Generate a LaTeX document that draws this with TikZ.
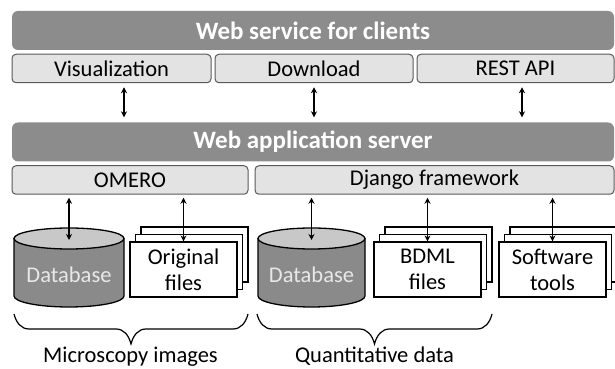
\documentclass[tikz,border=0pt]{standalone}
\usepackage{fontspec}
\setmainfont{Carlito}
\usetikzlibrary{arrows.meta}
\usetikzlibrary{shadows}
\usetikzlibrary{decorations.pathreplacing}

\definecolor{barGray}{HTML}{8C8C8C}
\definecolor{tabGray}{HTML}{E3E3E3}
\definecolor{edgeGray}{HTML}{595959}
\definecolor{drumBody}{HTML}{8A8A8A}
\definecolor{drumTop}{HTML}{C8C8C8}
\definecolor{drumText}{HTML}{E8E8E8}

\tikzset{
	bar/.style={fill=barGray, rounded corners=6pt, minimum width=602pt, minimum height=39pt, inner sep=0pt, text=white, font=\fontsize{25}{28}\selectfont\bfseries},
	tab/.style={draw=edgeGray, line width=1pt, fill=tabGray, rounded corners=4pt, minimum height=28.5pt, inner sep=0pt, font=\fontsize{22.5}{24}\selectfont},
	fileset/.style={draw, line width=1.2pt, fill=white, minimum width=107pt, minimum height=55pt, inner sep=0pt, align=center, font=\fontsize{22.5}{26}\selectfont,
		double copy shadow={shadow xshift=5.5pt, shadow yshift=7.5pt, draw=black, fill=white, line width=1.2pt}},
	link/.style={{Stealth[length=6pt,width=6pt]}-{Stealth[length=6pt,width=6pt]}, line width=1.5pt},
	drum/.style={draw=black, line width=1.3pt},
	curly/.style={decorate, decoration={brace, mirror, amplitude=15pt, transform={yscale=2}}, line width=1.2pt},
	caption/.style={font=\fontsize{22.5}{24}\selectfont}
}

\begin{document}
\begin{tikzpicture}[x=1pt, y=1pt]

	\useasboundingbox (0,0) rectangle (615,369);

	%client layer
	\node[bar] (clients) at (313,338.5) {Web service for clients};
	\node[tab, minimum width=199pt] (vis) at (111.5,300.5) {Visualization};
	\node[tab, minimum width=198pt] (down) at (314,300.5) {Download};
	\node[tab, minimum width=197pt] (rest) at (515.5,300.5) {REST API};

	%server layer
	\node[bar] (appsrv) at (313,227) {Web application server};
	\node[tab, minimum width=236pt] (omero) at (130,189) {OMERO};
	\node[tab, minimum width=359pt] (django) at (434.5,189) {Django framework};

	%databases
	\filldraw[drum, fill=drumBody] (14,130.5) -- (14,73) arc[start angle=180, end angle=360, x radius=55, y radius=11] -- (124,130.5) -- cycle;
	\filldraw[drum, fill=drumTop] (69,130.5) ellipse [x radius=55, y radius=10.5];
	\node[caption, text=drumText] (dbimg) at (69,94) {Database};
	\coordinate (dbimgtop) at (69,129);

	\filldraw[drum, fill=drumBody] (258,130.5) -- (258,73) arc[start angle=180, end angle=360, x radius=53.5, y radius=11] -- (365,130.5) -- cycle;
	\filldraw[drum, fill=drumTop] (311.5,130.5) ellipse [x radius=53.5, y radius=10.5];
	\node[caption, text=drumText] (dbdata) at (311.5,94) {Database};
	\coordinate (dbdatatop) at (311.5,129);

	%file stacks
	\node[fileset] (orig) at (183.5,99.5) {Original\\files};
	\node[fileset] (bdml) at (427.5,99.5) {BDML\\files};
	\node[fileset] (tools) at (552.5,99.5) {Software\\tools};

	%links
	\draw[link, shorten <=4pt, shorten >=5pt] ([xshift=12.5pt]vis.south) -- ([xshift=12.5pt]vis.south |- appsrv.north);
	\draw[link, shorten <=4pt, shorten >=5pt] (down.south) -- (down.south |- appsrv.north);
	\draw[link, shorten <=4pt, shorten >=5pt] ([xshift=6.5pt]rest.south) -- ([xshift=6.5pt]rest.south |- appsrv.north);

	\draw[link, shorten <=3pt] (omero.south -| dbimgtop) -- (dbimgtop);
	\draw[link, shorten <=3pt] (omero.south -| orig.north) -- (orig.north);
	\draw[link, shorten <=3pt] (django.south -| dbdatatop) -- (dbdatatop);
	\draw[link, shorten <=3pt] (django.south -| bdml.north) -- (bdml.north);
	\draw[link, shorten <=3pt] (django.south -| tools.north) -- (tools.north);

	%braces
	\draw[curly] (14,55) -- (248,55);
	\draw[curly] (257,55) -- (492,55);
	\node[caption, anchor=base] (micro) at (130.5,6.5) {Microscopy images};
	\node[caption, anchor=base] (quant) at (374.5,6.5) {Quantitative data};

\end{tikzpicture}
\end{document}
